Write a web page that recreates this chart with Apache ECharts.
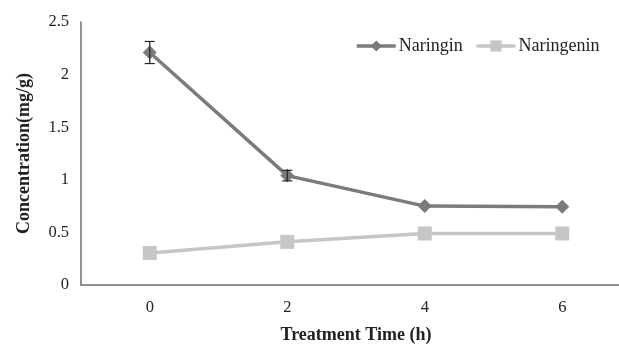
<!DOCTYPE html>
<html><head><meta charset="utf-8">
<script src="https://cdn.jsdelivr.net/npm/echarts@6/dist/echarts.min.js"></script>
<style>html,body{margin:0;padding:0;background:#fff;overflow:hidden}#c{width:619px;height:344px}</style>
</head><body><div id="c"></div>
<script>
var categories = ['0', '2', '4', '6'];
var naringin = [2.21, 1.04, 0.75, 0.745];
var naringinErr = [0.105, 0.05, 0, 0];
var naringenin = [0.305, 0.41, 0.49, 0.49];
var yTicks = ['0', '0.5', '1', '1.5', '2', '2.5'];

var chart = echarts.init(document.getElementById('c'));
var errData = [];
categories.forEach(function (c, i) {
  if (naringinErr[i] > 0) errData.push([i, naringin[i] - naringinErr[i], naringin[i] + naringinErr[i]]);
});
var font = 'Liberation Serif';
chart.setOption({
  animation: false,
  grid: { left: 81, top: 22, height: 263, width: 550, outerBoundsMode: 'none', containLabel: false },
  legend: {
    top: 32, left: 350, itemGap: 12, itemWidth: 39, itemHeight: 14,
    lineStyle: { width: 3.5 },
    textStyle: { fontFamily: font, fontSize: 18, color: '#222', padding: [0, 0, 0, -2] },
    data: ['Naringin', 'Naringenin']
  },
  xAxis: {
    type: 'category', data: categories, boundaryGap: true,
    axisLine: { lineStyle: { color: '#6e6e6e', width: 1.5 } },
    axisTick: { show: false },
    axisLabel: { fontFamily: font, fontSize: 16.5, color: '#222', margin: 14 },
    name: 'Treatment Time (h)', nameLocation: 'middle', nameGap: 41,
    nameTextStyle: { fontFamily: font, fontSize: 18, fontWeight: 'bold', color: '#222' }
  },
  yAxis: {
    type: 'value', min: 0, max: 2.5, interval: 0.5,
    axisLine: { show: true, lineStyle: { color: '#6e6e6e', width: 1.5 } },
    axisTick: { show: false },
    splitLine: { show: false },
    axisLabel: { fontFamily: font, fontSize: 16.5, color: '#222', margin: 12,
      formatter: function (v) { return yTicks[Math.round(v / 0.5)]; } },
    name: 'Concentration(mg/g)', nameLocation: 'middle', nameGap: 48,
    nameTextStyle: { fontFamily: font, fontSize: 18, fontWeight: 'bold', color: '#222' }
  },
  series: [
    {
      name: 'Naringin', type: 'line', data: naringin,
      symbol: 'diamond', symbolSize: 14,
      lineStyle: { color: '#7b7b7b', width: 3.5 },
      itemStyle: { color: '#7b7b7b' }
    },
    {
      name: 'Naringenin', type: 'line', data: naringenin,
      symbol: 'rect', symbolSize: 14,
      lineStyle: { color: '#c6c6c6', width: 3.5 },
      itemStyle: { color: '#c6c6c6' }
    },
    {
      type: 'custom', data: errData, z: 5,
      renderItem: function (params, api) {
        var lo = api.coord([api.value(0), api.value(1)]);
        var hi = api.coord([api.value(0), api.value(2)]);
        var w = 5;
        var st = { stroke: '#222', lineWidth: 1.2 };
        return { type: 'group', children: [
          { type: 'line', shape: { x1: hi[0], y1: hi[1], x2: lo[0], y2: lo[1] }, style: st },
          { type: 'line', shape: { x1: hi[0] - w, y1: hi[1], x2: hi[0] + w, y2: hi[1] }, style: st },
          { type: 'line', shape: { x1: lo[0] - w, y1: lo[1], x2: lo[0] + w, y2: lo[1] }, style: st }
        ]};
      }
    }
  ]
});
</script></body></html>
